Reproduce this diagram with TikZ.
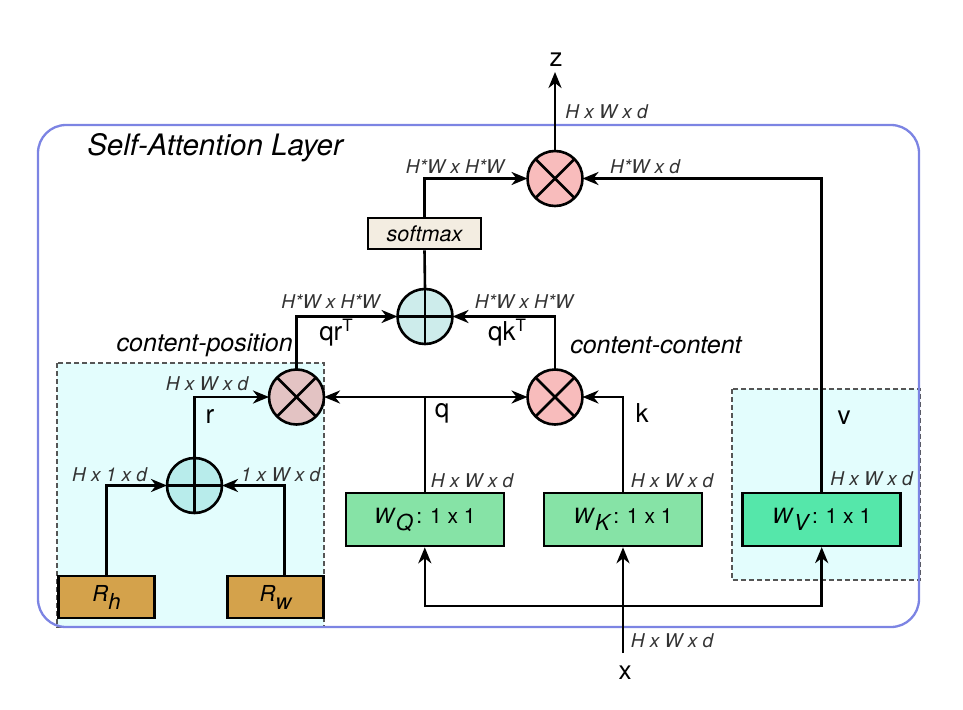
\documentclass[tikz,border=0pt]{standalone}
\usepackage{fontspec}
\setmainfont{TeX Gyre Heros}
\usetikzlibrary{arrows.meta,calc}
\definecolor{outerblue}{HTML}{7C84E3}
\definecolor{labgray}{HTML}{333333}
\definecolor{prodpink}{HTML}{F8BCBC}
\definecolor{proddusty}{HTML}{E3C3C3}
\definecolor{sumteal}{HTML}{CDECEB}
\definecolor{sumcyan}{HTML}{B8ECEB}
\definecolor{softbeige}{HTML}{F3EDE1}
\definecolor{wgreen}{HTML}{86E3A6}
\definecolor{wvgreen}{HTML}{55E7AA}
\definecolor{rochre}{HTML}{D4A24B}
\definecolor{dashfill}{HTML}{E3FDFD}
\definecolor{dashgray}{HTML}{555555}
\begin{document}
\begin{tikzpicture}[x=1pt,y=-1pt,line width=2.6pt,
  arr/.style={-{Stealth[length=16pt,width=13pt,inset=5pt]}},
  opnode/.style={circle,draw,minimum size=55pt,inner sep=0pt,outer sep=0pt},
  lab/.style={font=\fontsize{19}{21}\selectfont\itshape,text=labgray,inner sep=0pt},
  big/.style={font=\fontsize{26}{28}\selectfont,inner sep=0pt},
  bigit/.style={font=\fontsize{25}{28}\selectfont\itshape,inner sep=0pt},
  wbox/.style={draw,rectangle,minimum width=158pt,minimum height=53pt,inner sep=0pt,font=\fontsize{21}{24}\selectfont},
  rbox/.style={draw,rectangle,fill=rochre,minimum width=96pt,minimum height=42pt,inner sep=0pt,font=\fontsize{22}{24}\selectfont},
  dashbox/.style={draw=dashgray,fill=dashfill,dash pattern=on 5pt off 3pt,line width=1.1pt}
]
\useasboundingbox (0,0) rectangle (963,709);
% dashed regions
\draw[dashbox] (57,363) rectangle (324,627);
\draw[dashbox] (732,389) rectangle (920,580);
% outer layer
\draw[outerblue,line width=2.3pt,rounded corners=28pt] (38,125) rectangle (919,627);
\node[anchor=west,font=\fontsize{29.5}{32}\selectfont\itshape,inner sep=0pt] (title) at (86,148) {Self-Attention Layer};

% operators
\node[opnode,fill=prodpink] (mz) at (555,178.5) {};
\node[opnode,fill=sumteal] (ps) at (425,316.5) {};
\node[opnode,fill=proddusty] (mcp) at (296.5,397) {};
\node[opnode,fill=prodpink] (mcc) at (555,397) {};
\node[opnode,fill=sumcyan] (rs) at (194.5,485.5) {};
\foreach \n in {mz,mcp,mcc}{
  \draw (\n.north east) -- (\n.south west);
  \draw (\n.north west) -- (\n.south east);
}
\foreach \n in {ps,rs}{
  \draw (\n.north) -- (\n.south);
  \draw (\n.west) -- (\n.east);
}

% boxes
\node[draw,rectangle,fill=softbeige,minimum width=113pt,minimum height=31pt,inner sep=0pt,font=\fontsize{21.5}{24}\selectfont\itshape] (sm) at (424.5,233.5) {softmax};
\node[wbox,fill=wgreen] (wq) at (424.8,519.5) {\textit{W}\raisebox{-7pt}{\fontsize{22}{24}\selectfont\itshape Q}\,: 1 x 1};
\node[wbox,fill=wgreen] (wk) at (623,519.5) {\textit{W}\raisebox{-7pt}{\fontsize{22}{24}\selectfont\itshape K}\,: 1 x 1};
\node[wbox,fill=wvgreen] (wv) at (821.7,519.3) {\textit{W}\raisebox{-7pt}{\fontsize{22}{24}\selectfont\itshape V}\,: 1 x 1};
\node[rbox] (rh) at (106.5,597) {\textit{R}\raisebox{-8pt}{\itshape h}};
\node[rbox] (rw) at (275.5,597) {\textit{R}\raisebox{-8pt}{\itshape w}};

% coordinates
\coordinate (ztip) at (555,72);
\coordinate (qj) at (424.8,397);
\coordinate (xs) at (623,653);
\coordinate (xj) at (623,606);

% connectors
\draw[arr] (mz.north) -- (ztip);
\draw[arr] (sm.north) |- (mz.west);
\draw[arr] (wv.north) |- (mz.east);
\draw (ps.north) -- (sm.south);
\draw[arr] (mcp.north) |- (ps.west);
\draw[arr] (mcc.north) |- (ps.east);
\draw (wq.north) -- (qj);
\draw[arr] (qj) -- (mcp.east);
\draw[arr] (qj) -- (mcc.west);
\draw[arr] (wk.north) |- (mcc.east);
\draw[arr] (rs.north) |- (mcp.west);
\draw[arr] (rh.north) |- (rs.west);
\draw[arr] ([xshift=8.7pt]rw.north) |- (rs.east);
\draw[arr] (xs) -- (wk.south);
\draw[arr] (xj) -| (wq.south);
\draw[arr] (xj) -| (wv.south);

% big labels
\node[big] (zl) at (556,60) {z};
\node[big] (xl) at (625,673) {x};
\node[big] (ql) at (442,413) {q};
\node[big] (kl) at (642,413) {k};
\node[big] (rl) at (210,416) {r};
\node[big] (vl) at (844,418) {v};
\node[big] (qrt) at (336,333) {qr\raisebox{9pt}{\fontsize{17}{17}\selectfont T}};
\node[big] (qkt) at (507,333) {qk\raisebox{9pt}{\fontsize{17}{17}\selectfont T}};
\node[bigit,anchor=east] (cpl) at (294,345) {content-position};
\node[bigit,anchor=west] (ccl) at (569,345) {content-content};

% dimension labels
\node[lab,anchor=west] (dz) at (564,112) {H x W x d};
\node[lab] (dsm) at (455,167) {H*W x H*W};
\node[lab] (dv) at (645,167) {H*W x d};
\node[lab] (dqr) at (330.5,302) {H*W x H*W};
\node[lab] (dqk) at (524,302) {H*W x H*W};
\node[lab] (dr) at (207,384) {H x W x d};
\node[lab] (drh) at (109.5,475) {H x 1 x d};
\node[lab] (drw) at (280.5,475) {1 x W x d};
\node[lab] (dq) at (472,481) {H x W x d};
\node[lab] (dk) at (672,481) {H x W x d};
\node[lab] (dvv) at (871.5,479) {H x W x d};
\node[lab] (dx) at (672,641) {H x W x d};
\end{tikzpicture}
\end{document}
